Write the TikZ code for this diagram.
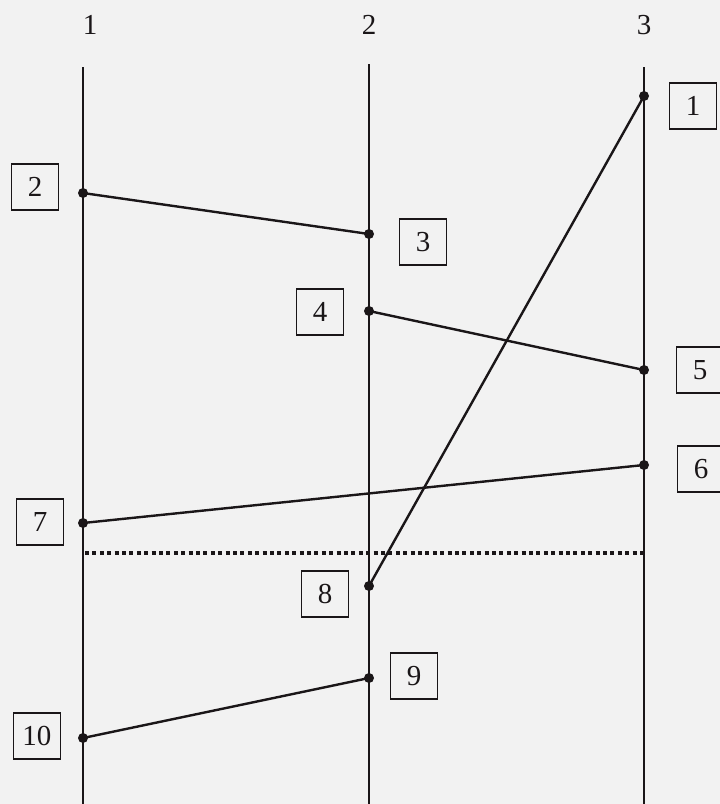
\documentclass[tikz,border=0pt]{standalone}
\usepackage{fontspec}
\setmainfont{Liberation Serif}
\definecolor{ink}{RGB}{26,22,24}
\definecolor{paper}{RGB}{242,242,242}
\begin{document}
\begin{tikzpicture}[x=1pt,y=-1pt,
  lane/.style={line width=2pt, draw=ink},
  link/.style={line width=2.4pt, draw=ink},
  sep/.style={line width=4pt, draw=ink, dash pattern=on 4pt off 3.4pt},
  dotmark/.style={circle, fill=ink, inner sep=0pt, minimum size=10pt},
  tag/.style={draw=ink, line width=1.8pt, minimum width=47pt, minimum height=46pt, inner sep=0pt, font=\fontsize{29}{29}\selectfont, text=ink},
  head/.style={font=\fontsize{29}{29}\selectfont, text=ink}]
\fill[paper] (0,0) rectangle (720,804);
\useasboundingbox (0,0) rectangle (720,804);
% lane headers
\node[head] (h1) at (90,25) {1};
\node[head] (h2) at (369,25) {2};
\node[head] (h3) at (644,25) {3};
% lanes
\coordinate (t1) at (83,67);  \coordinate (b1) at (83,804);
\coordinate (t2) at (369,64); \coordinate (b2) at (369,804);
\coordinate (t3) at (644,67); \coordinate (b3) at (644,804);
\draw[lane] (t1) -- (b1);
\draw[lane] (t2) -- (b2);
\draw[lane] (t3) -- (b3);
% separator
\coordinate (d1) at (85,553);
\coordinate (d2) at (644,553);
\draw[sep] (d1) -- (d2);
% event points
\node[dotmark] (p1) at (644,96) {};
\node[dotmark] (p2) at (83,193) {};
\node[dotmark] (p3) at (369,234) {};
\node[dotmark] (p4) at (369,311) {};
\node[dotmark] (p5) at (644,370) {};
\node[dotmark] (p6) at (644,465) {};
\node[dotmark] (p7) at (83,523) {};
\node[dotmark] (p8) at (369,586) {};
\node[dotmark] (p9) at (369,678) {};
\node[dotmark] (p10) at (83,738) {};
% messages
\draw[link] (p2.center) -- (p3.center);
\draw[link] (p4.center) -- (p5.center);
\draw[link] (p6.center) -- (p7.center);
\draw[link] (p1.center) -- (p8.center);
\draw[link] (p9.center) -- (p10.center);
% labels
\node[tag] (l1) at (693,106) {1};
\node[tag] (l2) at (35,187) {2};
\node[tag] (l3) at (423,242) {3};
\node[tag] (l4) at (320,312) {4};
\node[tag] (l5) at (700,370) {5};
\node[tag] (l6) at (701,469) {6};
\node[tag] (l7) at (40,522) {7};
\node[tag] (l8) at (325,594) {8};
\node[tag] (l9) at (414,676) {9};
\node[tag] (l10) at (37,736) {10};
\end{tikzpicture}
\end{document}
